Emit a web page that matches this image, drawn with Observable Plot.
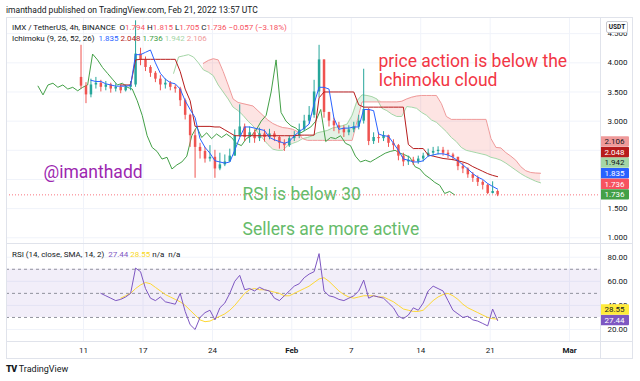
<!DOCTYPE html>
<html><head><meta charset="utf-8">
<script src="https://cdn.jsdelivr.net/npm/d3@7"></script>
<script src="https://cdn.jsdelivr.net/npm/@observablehq/plot@0.6"></script>
<style>
body{margin:0;background:#fff;}
#root{position:relative;width:640px;height:381px;overflow:hidden;background:#fff;font-family:Roboto,"Noto Sans",sans-serif;color:#131722;}
.abs{position:absolute;white-space:nowrap;line-height:10px;}
.ln{position:absolute;background:#e0e3eb;}
#root svg{position:absolute;left:0;}
</style></head><body><div id="root"></div>
<script>
// ---------------- data ----------------
const xTickDates = ["2022-01-11","2022-01-17","2022-01-24","2022-02-01","2022-02-07","2022-02-14","2022-02-21","2022-03-01"];
const xTickLabels = ["11","17","24","Feb","7","14","21","Mar"];
const priceTicks = [1.0,1.5,2.0,2.5,3.0,3.5,4.0,4.5];
const rsiTicks = [20,40,60,80];
const rsiLevels = [30,50,70];
const barStart = "2022-01-10T18:00Z";
const barHours = 12;
const displacementHours = 104; // 26 bars of 4h
const firstOpen = 3.75;
const closes = [3.60,3.45,3.62,3.65,3.58,3.62,3.55,3.58,3.52,3.58,
 3.62,4.15,4.05,3.92,3.82,3.72,3.62,3.65,3.58,3.55,
 3.35,3.10,2.75,2.55,2.48,2.35,2.38,2.18,2.25,2.30,
 2.40,2.75,2.90,2.72,2.80,2.70,2.78,2.72,2.78,2.72,
 2.62,2.58,2.70,2.75,2.85,3.00,3.10,3.50,4.05,3.15,
 3.00,2.92,2.88,2.80,2.85,2.90,3.00,3.20,2.65,2.72,
 2.70,2.75,2.62,2.58,2.40,2.30,2.33,2.30,2.35,2.40,
 2.45,2.48,2.50,2.45,2.42,2.38,2.22,2.18,2.08,2.02,
 1.95,1.90,1.76,1.794,1.736];
const highs = [4.30,3.66,3.72,3.75,3.70,3.68,3.65,3.64,3.62,3.62,
 3.68,4.72,4.25,4.10,3.95,3.85,3.78,3.72,3.68,3.62,
 3.58,3.38,3.12,2.85,2.62,2.55,2.58,2.50,2.45,2.42,
 2.52,2.85,3.28,2.95,2.90,2.85,2.88,2.85,2.86,2.82,
 2.75,2.68,2.75,2.82,2.95,3.10,3.25,3.70,4.30,4.05,
 3.15,3.05,2.98,2.92,2.92,2.98,3.10,3.89,3.22,2.80,
 2.80,2.82,2.76,2.68,2.60,2.45,2.40,2.38,2.40,2.45,
 2.52,2.55,2.56,2.55,2.50,2.45,2.38,2.28,2.20,2.12,
 2.06,1.98,1.92,1.96,1.815];
const lows = [3.55,3.30,3.40,3.55,3.50,3.52,3.48,3.50,3.47,3.50,
 3.52,3.58,3.95,3.85,3.75,3.66,3.52,3.55,3.52,3.48,
 3.25,3.02,2.55,2.02,2.35,2.28,2.30,2.02,2.15,2.22,
 2.30,2.40,2.72,2.65,2.62,2.62,2.65,2.64,2.68,2.65,
 2.52,2.48,2.55,2.65,2.70,2.82,2.95,3.05,3.40,3.05,
 2.90,2.82,2.78,2.72,2.75,2.80,2.85,2.95,2.58,2.60,
 2.62,2.65,2.55,2.50,2.32,2.22,2.24,2.24,2.26,2.30,
 2.38,2.40,2.42,2.40,2.36,2.32,2.15,2.10,2.02,1.95,
 1.88,1.82,1.74,1.75,1.705];
const tenkan = [null,null,3.70,3.68,3.68,3.64,3.62,3.60,3.60,3.60,
 3.61,4.14,4.14,4.18,4.22,4.00,3.82,3.72,3.66,3.64,
 3.55,3.35,3.20,3.06,2.70,2.55,2.45,2.32,2.30,2.28,
 2.30,2.50,2.72,2.90,2.90,2.88,2.86,2.84,2.72,2.68,
 2.65,2.62,2.65,2.75,2.82,2.88,2.95,3.30,3.58,3.58,
 3.55,3.05,2.86,2.88,2.88,2.90,2.90,3.20,3.20,3.18,
 2.78,2.75,2.74,2.62,2.50,2.35,2.33,2.30,2.30,2.32,
 2.40,2.42,2.44,2.44,2.42,2.38,2.32,2.25,2.18,2.10,
 2.04,2.00,1.93,1.88,1.835];
const kijun = [null,null,null,null,null,null,null,null,3.62,3.62,
 3.62,4.05,4.06,4.06,4.06,4.06,4.06,4.06,4.06,4.06,
 3.85,3.55,3.35,2.91,2.91,2.91,2.91,2.90,2.90,2.85,
 2.80,2.75,2.75,2.75,2.75,2.75,2.75,2.75,2.75,2.75,
 2.75,2.75,2.75,2.75,2.76,2.76,2.76,2.76,3.40,3.50,
 3.50,3.50,3.50,3.50,3.50,3.50,3.28,3.24,3.24,3.24,
 3.24,3.24,3.24,3.24,3.24,3.24,2.60,2.53,2.53,2.53,
 2.42,2.40,2.38,2.36,2.35,2.34,2.32,2.30,2.27,2.22,
 2.18,2.14,2.10,2.07,2.048];
const spanA = [null,null,null,null,null,null,null,null,null,null,
 3.82,4.10,4.12,4.14,4.10,4.00,3.88,3.84,3.78,3.62,
 3.50,3.38,3.24,3.18,3.10,3.00,2.92,2.80,2.70,2.60,
 2.52,2.50,2.50,2.58,2.62,2.65,2.70,2.72,2.75,2.80,
 2.82,2.84,2.88,2.90,2.92,2.95,3.10,3.35,3.45,3.44,
 3.42,3.38,3.22,3.18,3.12,3.08,3.08,3.25,3.24,3.22,
 3.15,3.10,3.02,2.98,2.90,2.82,2.72,2.65,2.55,2.50,
 2.48,2.46,2.44,2.42,2.38,2.36,2.33,2.28,2.22,2.16,
 2.10,2.05,2.01,1.97,1.942];
const spanB = [null,null,null,null,null,null,null,null,null,null,
 null,null,null,null,null,null,3.99,4.04,4.07,4.05,
 3.85,3.62,3.38,3.32,3.30,3.28,3.26,3.18,3.10,3.02,
 2.96,2.92,2.89,2.88,2.86,2.82,2.70,2.67,2.67,2.67,
 2.67,2.67,2.67,2.67,2.67,2.67,2.67,3.00,3.33,3.33,
 3.33,3.33,3.33,3.33,3.33,3.33,3.34,3.38,3.41,3.43,
 3.44,3.44,3.44,3.44,3.30,3.08,3.03,3.03,3.03,3.03,
 3.03,3.03,3.03,3.03,2.70,2.55,2.54,2.46,2.40,2.33,
 2.22,2.15,2.12,2.11,2.106];
const rsi = [null,null,null,null,50,48,46,44,45,47,
 50,71,68,54,46,44,47,43,42,41,
 50,35,24,20,30,34,36,28,38,42,
 50,60,65,53,54,52,55,53,52,46,
 44,48,52,56,58,63,66,68,83,52,
 48,47,45,44,46,48,52,61,46,48,
 47,46,42,38,31,29,32,38,36,42,
 52,56,54,52,44,36,33,30,31,28,
 27,25,23,37,27.44];
const rsiSma = [null,null,null,null,null,null,null,null,46,48,
 50,54,57,59,58,55,52,49,47,45,
 43,40,36,32,28,26.5,27,29,31,33,
 36,40,45,50,53,54,53,53,52,51,
 50,48,48,50,52,54,56,59,62,63,
 60,56,52,49,47,46,47,48,48,48,
 47,47,45,43,40,37,36,35,35,36,
 40,44,47,49,50,48,45,41,38,36,
 34,32,30,29,28.55];
const legendOHLC = [["O","1.794"],["H","1.815"],["L","1.705"],["C","1.736"]];
const legendChange = "\u22120.057 (\u22123.18%)";
// price-scale labels, bottom first: [value, background, text colour]
const priceLabels = [[1.736,"#43a047","#fff"],[1.736,"#f7525f","#fff"],[1.835,"#2962ff","#fff"],[1.942,"#a5d6a7","#131722"],[2.048,"#b71c1c","#fff"],[2.106,"#ef9a9a","#131722"]];
const ichiLegend = [[1.835,"#2962ff"],[2.048,"#b71c1c"],[1.736,"#43a047"],[1.942,"#a5d6a7"],[2.106,"#ef9a9a"]];
const rsiLabels = [[27.44,"#7e57c2","#fff"],[28.55,"#ffeb3b","#131722"]];
const lastClose = 1.736;

// ---------------- build ----------------
const root = document.getElementById("root");
const H = 3600e3, t0 = Date.parse(barStart);
const bars = closes.map((c,i)=>({
  t:new Date(t0+i*barHours*H),
  tLag:new Date(t0+i*barHours*H-displacementHours*H),
  tLead:new Date(t0+i*barHours*H+displacementHours*H),
  o:i?closes[i-1]:firstOpen,h:highs[i],l:lows[i],c,
  tenkan:tenkan[i],kijun:kijun[i],a:spanA[i],b:spanB[i],rsi:rsi[i],sma:rsiSma[i]
}));
const cloud = bars.filter(d=>d.a!=null&&d.b!=null).map(d=>({t:d.tLead,a:d.a,b:d.b,top:Math.max(d.a,d.b)}));
const xDomain = [new Date("2022-01-03T05:40Z"), new Date("2022-03-04T03:00Z")];
const xTicks = xTickDates.map(d=>new Date(d+"T00:00Z"));
const tickLabel = new Map(xTicks.map((d,i)=>[+d,xTickLabels[i]]));
const isMonth = s=>isNaN(+s);
const dayTicks = xTicks.filter(d=>!isMonth(tickLabel.get(+d)));
const monthTicks = xTicks.filter(d=>isMonth(tickLabel.get(+d)));
const UP="#26a69a", DOWN="#ef5350";
const baseStyle = {background:"transparent",fontFamily:"Roboto, sans-serif",fontSize:"8px",color:"#131722",overflow:"visible"};
const BOX_H = 10.6;

// stacked label positions (bottom first), computed with the price scale
function stack(scale, items){
  let prev = Infinity;
  return items.map(([v,bg,fg])=>{
    let cy = scale.apply(v);
    if (cy > prev-BOX_H) cy = prev-BOX_H;
    prev = cy;
    return {v,bg,fg,cy};
  });
}
const priceDomain = [0.902,4.777];
const yPre = Plot.scale({y:{domain:priceDomain,range:[226,0]}});
const prePos = stack(yPre, priceLabels);
const boxTop = Math.min(...prePos.map(d=>d.cy))-BOX_H/2, boxBot = Math.max(...prePos.map(d=>d.cy))+BOX_H/2;
const priceAxisTicks = priceTicks.filter(v=>{const p=yPre.apply(v);return p<boxTop-3||p>boxBot+3;});

const priceChart = Plot.plot({
  width:640,height:226,marginLeft:6,marginRight:40,marginTop:0,marginBottom:0,
  style:baseStyle,
  x:{type:"utc",domain:xDomain,axis:null,label:null},
  y:{domain:priceDomain,label:null},
  marks:[
    Plot.gridX(xTicks,{stroke:"#f0f3fa",strokeOpacity:1}),
    Plot.gridY(priceTicks,{stroke:"#f0f3fa",strokeOpacity:1}),
    Plot.axisY(priceAxisTicks,{anchor:"right",tickSize:0,tickPadding:7,tickFormat:d3.format(".3f"),label:null}),
    Plot.areaY(cloud,{x:"t",y1:"a",y2:"top",fill:"#f44336",fillOpacity:0.14}),
    Plot.areaY(cloud,{x:"t",y1:"b",y2:"top",fill:"#43a047",fillOpacity:0.14}),
    Plot.line(bars,{x:"tLead",y:"a",stroke:"#a5d6a7",strokeWidth:1}),
    Plot.line(bars,{x:"tLead",y:"b",stroke:"#ef9a9a",strokeWidth:1}),
    Plot.line(bars,{x:"tLag",y:"c",stroke:"#43a047",strokeWidth:1}),
    Plot.ruleX(bars,{x:"t",y1:"l",y2:"h",stroke:d=>d.c>=d.o?UP:DOWN,strokeWidth:1}),
    Plot.ruleX(bars,{x:"t",y1:"o",y2:"c",stroke:d=>d.c>=d.o?UP:DOWN,strokeWidth:2.5}),
    Plot.line(bars,{x:"t",y:"kijun",stroke:"#b71c1c",strokeWidth:1}),
    Plot.line(bars,{x:"t",y:"tenkan",stroke:"#2962ff",strokeWidth:1}),
    Plot.ruleY([lastClose],{stroke:"#f7525f",strokeDasharray:"1,2",strokeOpacity:0.8}),
    Plot.text(["price action is below the\nIchimoku cloud"],{frameAnchor:"top-left",dx:372,dy:36,text:d=>d,fontSize:17.5,fill:"#f23645",textAnchor:"start",lineAnchor:"top",lineHeight:1.07}),
    Plot.text(["@imanthadd"],{frameAnchor:"top-left",dx:37,dy:148,text:d=>d,fontSize:17.5,fill:"#9c27b0",textAnchor:"start",lineAnchor:"top"}),
    Plot.text(["RSI is below 30"],{frameAnchor:"top-left",dx:236,dy:170,text:d=>d,fontSize:17.5,fill:"#66bb6a",textAnchor:"start",lineAnchor:"top"}),
    Plot.text(["Sellers are more active"],{frameAnchor:"top-left",dx:236,dy:205,text:d=>d,fontSize:17.5,fill:"#66bb6a",textAnchor:"start",lineAnchor:"top"})
  ]
});
priceChart.style.top="17px";

const rsiChart = Plot.plot({
  width:640,height:115,marginLeft:6,marginRight:40,marginTop:0,marginBottom:17,
  style:baseStyle,
  x:{type:"utc",domain:xDomain,label:null},
  y:{domain:[10.04,91.4],label:null},
  marks:[
    Plot.gridX(xTicks,{stroke:"#f0f3fa",strokeOpacity:1}),
    Plot.gridY(rsiTicks,{stroke:"#f0f3fa",strokeOpacity:1}),
    Plot.areaY(xDomain,{x:d=>d,y1:rsiLevels[0],y2:rsiLevels[2],fill:"#7e57c2",fillOpacity:0.1}),
    Plot.ruleY(rsiLevels,{stroke:"#787b86",strokeDasharray:"3,3",strokeOpacity:0.8}),
    Plot.line(bars,{x:"t",y:"sma",stroke:"#fdd835",strokeWidth:1}),
    Plot.line(bars,{x:"t",y:"rsi",stroke:"#7e57c2",strokeWidth:1}),
    Plot.axisY(rsiTicks,{anchor:"right",tickSize:0,tickPadding:7,tickFormat:d3.format(".2f"),label:null}),
    Plot.axisX(dayTicks,{anchor:"bottom",tickSize:0,tickPadding:6,tickFormat:d=>tickLabel.get(+d),label:null}),
    Plot.axisX(monthTicks,{anchor:"bottom",tickSize:0,tickPadding:6,tickFormat:d=>tickLabel.get(+d),label:null,fontWeight:"bold"})
  ]
});
rsiChart.style.top="243px";

function addBoxes(chart, items, fmt){
  const xr = chart.scale("x").range;
  const svg = d3.select(chart);
  stack(chart.scale("y"), items).forEach(({v,bg,fg,cy})=>{
    const g = svg.append("g");
    g.append("rect").attr("x",xr[1]).attr("y",cy-5.2).attr("width",29).attr("height",10.4).attr("rx",1).attr("fill",bg);
    g.append("text").attr("x",xr[1]+14.5).attr("y",cy).attr("dy","0.35em").attr("text-anchor","middle").attr("fill",fg).attr("font-size",8).text(fmt(v));
  });
}
addBoxes(priceChart, priceLabels, d3.format(".3f"));
addBoxes(rsiChart, rsiLabels, d3.format(".2f"));

root.appendChild(priceChart);
root.appendChild(rsiChart);

function div(cls, css, html){const e=document.createElement("div");e.className=cls;e.style.cssText=css;if(html!=null)e.innerHTML=html;root.appendChild(e);return e;}
// frame lines
div("ln","left:6px;top:17px;width:627px;height:1px");
div("ln","left:6px;top:17px;width:1px;height:342px");
div("ln","left:632px;top:17px;width:1px;height:342px");
div("ln","left:6px;top:358px;width:627px;height:1px");
div("ln","left:6px;top:243px;width:627px;height:1px");
div("ln","left:6px;top:341px;width:627px;height:1px");
div("ln","left:600px;top:17px;width:1px;height:341px");

// texts
div("abs","left:6px;top:5px;font-size:8.5px;color:#131722","imanthadd published on TradingView.com, Feb 21, 2022 13:57 UTC");
const red="#f7525f";
div("abs","left:12px;top:23px;font-size:8px","IMX / TetherUS, 4h, BINANCE&nbsp; "+legendOHLC.map(([k,v])=>`${k}<span style="color:${red}">${v}</span>`).join(" ")+` <span style="color:${red}">${legendChange}</span>`);
div("abs","left:12px;top:34px;font-size:8px","Ichimoku (9, 26, 52, 26)&nbsp; "+ichiLegend.map(([v,c])=>`<span style="color:${c}">${d3.format(".3f")(v)}</span>`).join(" "));
div("abs","left:12px;top:250px;font-size:8px","RSI (14, close, SMA, 14, 2)&nbsp; "+`<span style="color:#7e57c2">${rsiLabels[0][0].toFixed(2)}</span> <span style="color:#f9d71c">${rsiLabels[1][0].toFixed(2)}</span> n/a&nbsp; n/a`);
div("abs","left:606px;top:21px;width:20px;height:10px;border:1px solid #c8cad1;border-radius:2px;background:#fff;font-size:6.5px;font-weight:bold;text-align:center;line-height:10px","USDT");
div("abs","left:6px;top:364px;font-size:9px;color:#131722","<b style='font-weight:900;letter-spacing:-0.5px'>TV</b> TradingView");
</script></body></html>
